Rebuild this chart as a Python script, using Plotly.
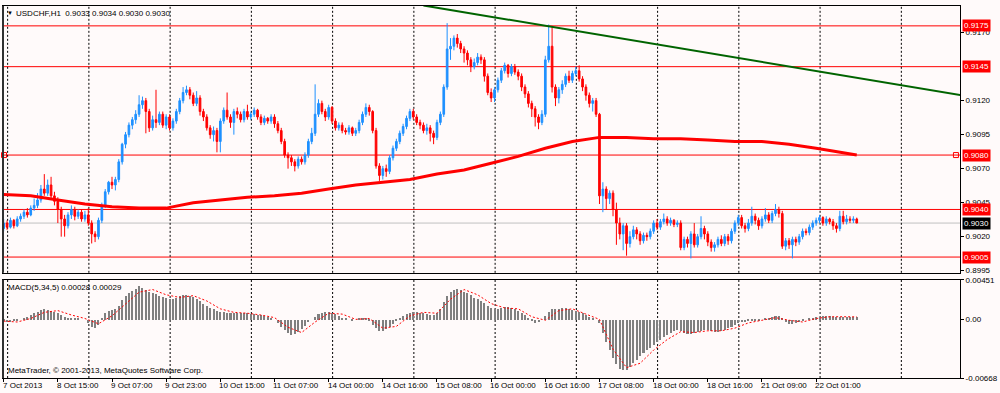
import plotly.graph_objects as go

# ---------------- data ----------------
symbol = "USDCHF,H1"
x_labels = ["7 Oct 2013", "8 Oct 15:00", "9 Oct 07:00", "9 Oct 23:00", "10 Oct 15:00",
            "11 Oct 07:00", "14 Oct 00:00", "14 Oct 16:00", "15 Oct 08:00", "16 Oct 00:00",
            "16 Oct 16:00", "17 Oct 08:00", "18 Oct 00:00", "18 Oct 16:00", "21 Oct 09:00",
            "22 Oct 01:00"]
label_every = 16   # bars between time labels
grid_every = 24    # bars between vertical grid lines

opens = [
    0.9026, 0.9030, 0.9027, 0.9032, 0.9028, 0.9033, 0.9035, 0.9038, 0.9036, 0.9041,
    0.9043, 0.9047, 0.9055, 0.9052, 0.9058, 0.9050, 0.9046, 0.9040, 0.9033, 0.9028,
    0.9036, 0.9040, 0.9035, 0.9038, 0.9033, 0.9036, 0.9030, 0.9022, 0.9020, 0.9032,
    0.9043, 0.9053, 0.9060, 0.9058, 0.9062, 0.9075, 0.9088, 0.9095, 0.9102, 0.9106,
    0.9110, 0.9117, 0.9120, 0.9112, 0.9100, 0.9106, 0.9104, 0.9110, 0.9102, 0.9108,
    0.9100, 0.9105, 0.9112, 0.9120, 0.9126, 0.9128, 0.9124, 0.9118, 0.9122, 0.9112,
    0.9108, 0.9100, 0.9095, 0.9098, 0.9090, 0.9105, 0.9113, 0.9108, 0.9104, 0.9112,
    0.9110, 0.9106, 0.9112, 0.9108, 0.9110, 0.9113, 0.9108, 0.9104, 0.9107, 0.9105,
    0.9108, 0.9103, 0.9098, 0.9090, 0.9080, 0.9078, 0.9075, 0.9072, 0.9077, 0.9075,
    0.9080, 0.9090, 0.9096, 0.9110, 0.9118, 0.9112, 0.9108, 0.9115, 0.9105, 0.9100,
    0.9102, 0.9098, 0.9097, 0.9100, 0.9096, 0.9098, 0.9104, 0.9110, 0.9115, 0.9112,
    0.9098, 0.9072, 0.9065, 0.9070, 0.9068, 0.9078, 0.9085, 0.9090, 0.9096, 0.9101,
    0.9107, 0.9112, 0.9108, 0.9104, 0.9102, 0.9098, 0.9100, 0.9096, 0.9093, 0.9104,
    0.9110, 0.9130, 0.9158, 0.9160, 0.9166, 0.9162, 0.9158, 0.9155, 0.9150, 0.9145,
    0.9148, 0.9152, 0.9150, 0.9138, 0.9126, 0.9122, 0.9128, 0.9135, 0.9142, 0.9146,
    0.9140, 0.9145, 0.9141, 0.9138, 0.9130, 0.9125, 0.9118, 0.9114, 0.9108, 0.9104,
    0.9110, 0.9150, 0.9160, 0.9130, 0.9122, 0.9128, 0.9132, 0.9138, 0.9135, 0.9140,
    0.9142, 0.9136, 0.9130, 0.9124, 0.9118, 0.9120, 0.9110, 0.9050, 0.9055, 0.9048,
    0.9052, 0.9040, 0.9030, 0.9022, 0.9028, 0.9015, 0.9020, 0.9025, 0.9022, 0.9017,
    0.9021, 0.9020, 0.9024, 0.9030, 0.9027, 0.9031, 0.9033, 0.9030, 0.9032, 0.9029,
    0.9030, 0.9012, 0.9018, 0.9015, 0.9022, 0.9014, 0.9020, 0.9026, 0.9022, 0.9016,
    0.9012, 0.9014, 0.9018, 0.9015, 0.9020, 0.9017, 0.9024, 0.9030, 0.9034, 0.9028,
    0.9026, 0.9030, 0.9035, 0.9032, 0.9028, 0.9033, 0.9036, 0.9032, 0.9037, 0.9040,
    0.9037, 0.9013, 0.9017, 0.9014, 0.9018, 0.9016, 0.9020, 0.9024, 0.9023, 0.9027,
    0.9030, 0.9032, 0.9034, 0.9030, 0.9033, 0.9031, 0.9028, 0.9026, 0.9035, 0.9031,
    0.9033, 0.9032, 0.9033]

highs = [
    0.9033, 0.9032, 0.9034, 0.9033, 0.9035, 0.9037, 0.9040, 0.9041, 0.9043, 0.9048,
    0.9052, 0.9058, 0.9066, 0.9062, 0.9064, 0.9053, 0.9049, 0.9042, 0.9036, 0.9038,
    0.9043, 0.9042, 0.9040, 0.9040, 0.9039, 0.9041, 0.9032, 0.9024, 0.9034, 0.9045,
    0.9055, 0.9061, 0.9064, 0.9064, 0.9077, 0.9089, 0.9097, 0.9104, 0.9108, 0.9113,
    0.9124, 0.9123, 0.9122, 0.9114, 0.9109, 0.9128, 0.9112, 0.9112, 0.9110, 0.9110,
    0.9107, 0.9114, 0.9122, 0.9130, 0.9131, 0.9130, 0.9126, 0.9127, 0.9124, 0.9114,
    0.9110, 0.9102, 0.9101, 0.9100, 0.9107, 0.9115, 0.9126, 0.9110, 0.9114, 0.9115,
    0.9112, 0.9114, 0.9117, 0.9112, 0.9115, 0.9114, 0.9110, 0.9109, 0.9108, 0.9110,
    0.9110, 0.9105, 0.9100, 0.9092, 0.9082, 0.9080, 0.9077, 0.9079, 0.9079, 0.9082,
    0.9092, 0.9100, 0.9132, 0.9121, 0.9120, 0.9114, 0.9117, 0.9116, 0.9107, 0.9104,
    0.9104, 0.9100, 0.9102, 0.9101, 0.9100, 0.9106, 0.9112, 0.9118, 0.9117, 0.9113,
    0.9100, 0.9074, 0.9072, 0.9073, 0.9080, 0.9087, 0.9092, 0.9098, 0.9103, 0.9109,
    0.9114, 0.9114, 0.9110, 0.9106, 0.9104, 0.9103, 0.9102, 0.9098, 0.9106, 0.9112,
    0.9132, 0.9177, 0.9166, 0.9168, 0.9169, 0.9164, 0.9160, 0.9157, 0.9152, 0.9151,
    0.9155, 0.9154, 0.9152, 0.9140, 0.9129, 0.9130, 0.9137, 0.9144, 0.9148, 0.9147,
    0.9147, 0.9147, 0.9143, 0.9140, 0.9132, 0.9127, 0.9120, 0.9116, 0.9110, 0.9113,
    0.9153, 0.9176, 0.9175, 0.9132, 0.9130, 0.9135, 0.9140, 0.9142, 0.9142, 0.9145,
    0.9146, 0.9138, 0.9132, 0.9126, 0.9122, 0.9122, 0.9111, 0.9060, 0.9057, 0.9054,
    0.9054, 0.9045, 0.9034, 0.9030, 0.9030, 0.9024, 0.9028, 0.9027, 0.9024, 0.9023,
    0.9023, 0.9026, 0.9032, 0.9033, 0.9033, 0.9037, 0.9035, 0.9034, 0.9033, 0.9032,
    0.9032, 0.9020, 0.9020, 0.9024, 0.9030, 0.9022, 0.9035, 0.9028, 0.9024, 0.9018,
    0.9016, 0.9020, 0.9021, 0.9022, 0.9022, 0.9026, 0.9032, 0.9036, 0.9036, 0.9030,
    0.9033, 0.9042, 0.9037, 0.9034, 0.9035, 0.9041, 0.9038, 0.9039, 0.9044, 0.9042,
    0.9039, 0.9019, 0.9019, 0.9020, 0.9020, 0.9022, 0.9026, 0.9026, 0.9029, 0.9032,
    0.9034, 0.9036, 0.9035, 0.9035, 0.9034, 0.9033, 0.9030, 0.9039, 0.9039, 0.9036,
    0.9035, 0.9035, 0.9034]

lows = [
    0.9024, 0.9025, 0.9026, 0.9026, 0.9027, 0.9031, 0.9033, 0.9034, 0.9035, 0.9039,
    0.9041, 0.9045, 0.9050, 0.9050, 0.9048, 0.9043, 0.9030, 0.9020, 0.9020, 0.9026,
    0.9033, 0.9032, 0.9033, 0.9031, 0.9031, 0.9028, 0.9015, 0.9016, 0.9018, 0.9030,
    0.9041, 0.9051, 0.9055, 0.9054, 0.9060, 0.9073, 0.9085, 0.9093, 0.9099, 0.9103,
    0.9108, 0.9114, 0.9096, 0.9097, 0.9098, 0.9100, 0.9102, 0.9100, 0.9099, 0.9098,
    0.9098, 0.9103, 0.9110, 0.9118, 0.9124, 0.9121, 0.9116, 0.9116, 0.9109, 0.9105,
    0.9098, 0.9092, 0.9090, 0.9082, 0.9082, 0.9103, 0.9106, 0.9100, 0.9095, 0.9107,
    0.9104, 0.9104, 0.9106, 0.9106, 0.9108, 0.9106, 0.9102, 0.9102, 0.9103, 0.9103,
    0.9100, 0.9096, 0.9088, 0.9078, 0.9070, 0.9072, 0.9068, 0.9070, 0.9073, 0.9073,
    0.9078, 0.9088, 0.9094, 0.9108, 0.9110, 0.9105, 0.9106, 0.9103, 0.9098, 0.9098,
    0.9096, 0.9095, 0.9095, 0.9094, 0.9094, 0.9096, 0.9102, 0.9108, 0.9109, 0.9096,
    0.9070, 0.9061, 0.9062, 0.9064, 0.9066, 0.9076, 0.9083, 0.9088, 0.9094, 0.9099,
    0.9105, 0.9106, 0.9102, 0.9099, 0.9096, 0.9095, 0.9090, 0.9088, 0.9091, 0.9102,
    0.9108, 0.9128, 0.9150, 0.9157, 0.9159, 0.9155, 0.9148, 0.9146, 0.9141, 0.9143,
    0.9146, 0.9147, 0.9134, 0.9124, 0.9119, 0.9119, 0.9126, 0.9133, 0.9140, 0.9137,
    0.9138, 0.9139, 0.9135, 0.9127, 0.9122, 0.9115, 0.9108, 0.9101, 0.9099, 0.9102,
    0.9108, 0.9148, 0.9126, 0.9116, 0.9118, 0.9125, 0.9130, 0.9133, 0.9133, 0.9138,
    0.9134, 0.9127, 0.9120, 0.9115, 0.9112, 0.9108, 0.9044, 0.9038, 0.9040, 0.9044,
    0.9035, 0.9014, 0.9018, 0.9010, 0.9006, 0.9012, 0.9018, 0.9018, 0.9014, 0.9015,
    0.9017, 0.9018, 0.9022, 0.9025, 0.9025, 0.9029, 0.9028, 0.9028, 0.9027, 0.9027,
    0.9010, 0.9010, 0.9012, 0.9004, 0.9012, 0.9012, 0.9018, 0.9018, 0.9013, 0.9009,
    0.9009, 0.9012, 0.9013, 0.9013, 0.9014, 0.9015, 0.9022, 0.9028, 0.9026, 0.9023,
    0.9024, 0.9028, 0.9029, 0.9025, 0.9026, 0.9031, 0.9030, 0.9030, 0.9035, 0.9034,
    0.9011, 0.9010, 0.9011, 0.9004, 0.9013, 0.9014, 0.9018, 0.9021, 0.9021, 0.9025,
    0.9028, 0.9030, 0.9028, 0.9028, 0.9029, 0.9025, 0.9023, 0.9024, 0.9029, 0.9029,
    0.9030, 0.9030, 0.9030]

closes = [
    0.9030, 0.9027, 0.9032, 0.9028, 0.9033, 0.9035, 0.9038, 0.9036, 0.9041, 0.9043,
    0.9047, 0.9055, 0.9052, 0.9058, 0.9050, 0.9046, 0.9040, 0.9033, 0.9028, 0.9036,
    0.9040, 0.9035, 0.9038, 0.9033, 0.9036, 0.9030, 0.9022, 0.9020, 0.9032, 0.9043,
    0.9053, 0.9060, 0.9058, 0.9062, 0.9075, 0.9088, 0.9095, 0.9102, 0.9106, 0.9110,
    0.9117, 0.9120, 0.9112, 0.9100, 0.9106, 0.9104, 0.9110, 0.9102, 0.9108, 0.9100,
    0.9105, 0.9112, 0.9120, 0.9126, 0.9128, 0.9124, 0.9118, 0.9122, 0.9112, 0.9108,
    0.9100, 0.9095, 0.9098, 0.9090, 0.9105, 0.9113, 0.9108, 0.9104, 0.9112, 0.9110,
    0.9106, 0.9112, 0.9108, 0.9110, 0.9113, 0.9108, 0.9104, 0.9107, 0.9105, 0.9108,
    0.9103, 0.9098, 0.9090, 0.9080, 0.9078, 0.9075, 0.9072, 0.9077, 0.9075, 0.9080,
    0.9090, 0.9096, 0.9110, 0.9118, 0.9112, 0.9108, 0.9115, 0.9105, 0.9100, 0.9102,
    0.9098, 0.9097, 0.9100, 0.9096, 0.9098, 0.9104, 0.9110, 0.9115, 0.9112, 0.9098,
    0.9072, 0.9065, 0.9070, 0.9068, 0.9078, 0.9085, 0.9090, 0.9096, 0.9101, 0.9107,
    0.9112, 0.9108, 0.9104, 0.9102, 0.9098, 0.9100, 0.9096, 0.9093, 0.9104, 0.9110,
    0.9130, 0.9158, 0.9160, 0.9166, 0.9162, 0.9158, 0.9155, 0.9150, 0.9145, 0.9148,
    0.9152, 0.9150, 0.9138, 0.9126, 0.9122, 0.9128, 0.9135, 0.9142, 0.9146, 0.9140,
    0.9145, 0.9141, 0.9138, 0.9130, 0.9125, 0.9118, 0.9114, 0.9108, 0.9104, 0.9110,
    0.9150, 0.9160, 0.9130, 0.9122, 0.9128, 0.9132, 0.9138, 0.9135, 0.9140, 0.9142,
    0.9136, 0.9130, 0.9124, 0.9118, 0.9120, 0.9110, 0.9050, 0.9055, 0.9048, 0.9052,
    0.9040, 0.9030, 0.9022, 0.9028, 0.9015, 0.9020, 0.9025, 0.9022, 0.9017, 0.9021,
    0.9020, 0.9024, 0.9030, 0.9027, 0.9031, 0.9033, 0.9030, 0.9032, 0.9029, 0.9030,
    0.9012, 0.9018, 0.9015, 0.9022, 0.9014, 0.9020, 0.9026, 0.9022, 0.9016, 0.9012,
    0.9014, 0.9018, 0.9015, 0.9020, 0.9017, 0.9024, 0.9030, 0.9034, 0.9028, 0.9026,
    0.9030, 0.9035, 0.9032, 0.9028, 0.9033, 0.9036, 0.9032, 0.9037, 0.9040, 0.9037,
    0.9013, 0.9017, 0.9014, 0.9018, 0.9016, 0.9020, 0.9024, 0.9023, 0.9027, 0.9030,
    0.9032, 0.9034, 0.9030, 0.9033, 0.9031, 0.9028, 0.9026, 0.9035, 0.9031, 0.9033,
    0.9032, 0.9033, 0.9030]

# moving average (red thick line), read at every 8th bar
ma_bars = [0, 8, 16, 24, 32, 40, 48, 56, 64, 72, 80, 88, 96, 104, 112, 120, 128, 136,
           144, 152, 160, 168, 176, 184, 192, 200, 208, 216, 224, 232, 240, 248, 252]
ma_values = [0.9051, 0.9050, 0.9047, 0.9044, 0.9042, 0.9041, 0.9041, 0.9045, 0.9047,
             0.9049, 0.9050, 0.9052, 0.9055, 0.9058, 0.9060, 0.9062, 0.9066, 0.9069,
             0.9074, 0.9079, 0.9085, 0.9090, 0.9093, 0.9093, 0.9092, 0.9092, 0.9091,
             0.9090, 0.9090, 0.9088, 0.9085, 0.9082, 0.9080]

# trend line anchors (bar, price)
trend_bars = [124, 283]
trend_prices = [0.9190, 0.9124]

# horizontal price levels
red_levels = [0.9175, 0.9145, 0.9080, 0.9040, 0.9005]
bid_level = 0.9030

# MACD(5,34,5) histogram, one value per bar
macd_hist = [
    -0.0002, -0.0003, -0.0003, -0.0002, -0.0001, 0.0000,
    0.0001, 0.0003, 0.0005, 0.0007, 0.0009, 0.0011, 0.0012, 0.0011, 0.0010, 0.0009, 0.0007,
    0.0005, 0.0003, 0.0002, 0.0001, 0.0001, 0.0001, 0.0000, 0.0000,
    -0.0004, -0.0008, -0.0010, -0.0006,
    0.0002, 0.0008, 0.0010, 0.0011, 0.0012,
    0.0016, 0.0022, 0.0027, 0.0030, 0.0033, 0.0035, 0.0038,
    0.0036, 0.0034, 0.0032, 0.0030, 0.0029, 0.0027, 0.0026, 0.0025, 0.0024, 0.0024,
    0.0025, 0.0027, 0.0028, 0.0028, 0.0027, 0.0026, 0.0024,
    0.0021, 0.0018, 0.0015, 0.0013, 0.0012,
    0.0010, 0.0009, 0.0009, 0.0008, 0.0008, 0.0008, 0.0007, 0.0007, 0.0007, 0.0007,
    0.0006, 0.0006, 0.0005, 0.0005, 0.0004, 0.0003, 0.0002, 0.0000,
    -0.0004, -0.0008, -0.0012, -0.0015, -0.0017, -0.0016, -0.0014, -0.0011, -0.0007,
    -0.0003, 0.0000, 0.0003,
    0.0006, 0.0008, 0.0009, 0.0009, 0.0008, 0.0006, 0.0004,
    0.0002, 0.0001, 0.0000, -0.0001, 0.0000, 0.0001, 0.0002, 0.0002,
    -0.0002, -0.0006, -0.0010, -0.0013, -0.0013, -0.0011, -0.0008, -0.0005,
    -0.0002, 0.0001, 0.0004, 0.0006, 0.0008, 0.0009, 0.0009, 0.0008, 0.0007, 0.0006, 0.0005,
    0.0005, 0.0008, 0.0012, 0.0020, 0.0027, 0.0031, 0.0034, 0.0035, 0.0034, 0.0032,
    0.0030, 0.0028, 0.0025, 0.0023, 0.0021, 0.0019, 0.0016, 0.0013, 0.0012, 0.0012,
    0.0013, 0.0014, 0.0014, 0.0013, 0.0012, 0.0010, 0.0008, 0.0005, 0.0002,
    -0.0002, -0.0004, -0.0003, 0.0000, 0.0004,
    0.0009, 0.0012, 0.0012, 0.0012, 0.0013, 0.0013, 0.0012, 0.0011, 0.0010, 0.0009,
    0.0007, 0.0005, 0.0003, 0.0001, 0.0000, -0.0004,
    -0.0015, -0.0025, -0.0035, -0.0044, -0.0051, -0.0056, -0.0058, -0.0057, -0.0054, -0.0050,
    -0.0046, -0.0042, -0.0038, -0.0035, -0.0032, -0.0029, -0.0026, -0.0023, -0.0020,
    -0.0017, -0.0015, -0.0013, -0.0012,
    -0.0013, -0.0015, -0.0016, -0.0016, -0.0015, -0.0014, -0.0013, -0.0012, -0.0012,
    -0.0013, -0.0014, -0.0014, -0.0013, -0.0012, -0.0010,
    -0.0008, -0.0006, -0.0004, -0.0003, -0.0003, -0.0002, -0.0002, -0.0001, -0.0001,
    0.0000, 0.0001, 0.0002,
    0.0003, 0.0004, 0.0004,
    0.0001, -0.0003, -0.0005, -0.0005, -0.0004, -0.0003,
    -0.0001, 0.0000, 0.0001, 0.0002, 0.0003, 0.0003, 0.0004, 0.0004, 0.0004, 0.0003,
    0.0003, 0.0003, 0.0003, 0.0003, 0.0003, 0.0003, 0.00028]

# MACD signal line, read at every 4th bar
signal_bars = list(range(0, 253, 4))
macd_signal = [
    -0.0002, -0.0003, 0.0001, 0.0008, 0.0010, 0.0005, 0.0001, -0.0005, 0.0004, 0.0017,
    0.0031, 0.0034, 0.0028, 0.0025, 0.0027, 0.0021, 0.0012, 0.0008, 0.0007, 0.0005,
    0.0002, -0.0009, -0.0015, -0.0003, 0.0007, 0.0006, 0.0000, 0.0001, -0.0010, -0.0008,
    0.0004, 0.0008, 0.0007, 0.0023, 0.0034, 0.0028, 0.0018, 0.0013, 0.0012, 0.0003,
    -0.0001, 0.0010, 0.0012, 0.0006, 0.0000, -0.0034, -0.0055, -0.0050, -0.0035, -0.0023,
    -0.0014, -0.0015, -0.0013, -0.0013, -0.0010, -0.0004, -0.0001, 0.0002, -0.0001, -0.0003,
    0.0001, 0.0003, 0.0003, 0.00029]
macd_label_values = ("0.00028", "0.00029")
macd_range = [-0.00668, 0.00451]

# right-axis price ticks shown in the chart
price_ticks = [0.8995, 0.9020, 0.9045, 0.9070, 0.9095, 0.9120, 0.9170]

n = len(closes)
assert len(opens) == n and len(highs) == n and len(lows) == n, (len(opens), len(highs), len(lows), n)
assert len(macd_hist) == n, len(macd_hist)
assert len(macd_signal) == len(signal_bars), (len(macd_signal), len(signal_bars))
bars = list(range(n))

# ---------------- styling ----------------
BG = "#FFFAFA"
BLUE = "#1E90FF"
RED = "#FF0000"
FONT = "Liberation Sans"
x_range = [-0.2, 282.5]

fig = go.Figure()

fig.add_trace(go.Candlestick(
    x=bars, open=opens, high=highs, low=lows, close=closes,
    increasing=dict(line=dict(color=BLUE, width=1), fillcolor=BLUE),
    decreasing=dict(line=dict(color=RED, width=1), fillcolor=RED),
    whiskerwidth=0, showlegend=False, xaxis="x", yaxis="y", hoverinfo="skip"))

fig.add_trace(go.Scatter(x=ma_bars, y=ma_values, mode="lines",
                         line=dict(color=RED, width=3), showlegend=False,
                         xaxis="x", yaxis="y", hoverinfo="skip"))

fig.add_trace(go.Scatter(x=trend_bars, y=trend_prices, mode="lines",
                         line=dict(color="#006400", width=2), showlegend=False,
                         xaxis="x", yaxis="y", hoverinfo="skip"))

# small handles on the 0.9080 level line
fig.add_trace(go.Scatter(x=[0.1, 281.3], y=[red_levels[2], red_levels[2]], mode="markers",
                         marker=dict(symbol="square-open", size=5, color=RED, line=dict(width=1)),
                         showlegend=False, xaxis="x", yaxis="y", hoverinfo="skip",
                         cliponaxis=False))

fig.add_trace(go.Bar(x=bars, y=macd_hist, marker=dict(color="#808080", line=dict(width=0)),
                     width=0.6, showlegend=False, xaxis="x2", yaxis="y2", hoverinfo="skip"))
fig.add_trace(go.Scatter(x=signal_bars, y=macd_signal, mode="lines",
                         line=dict(color=RED, width=1, dash="2px,2px"), showlegend=False,
                         xaxis="x2", yaxis="y2", hoverinfo="skip"))

shapes = []
for lv in red_levels:
    shapes.append(dict(type="line", xref="x domain", yref="y", x0=0, x1=1, y0=lv, y1=lv,
                       line=dict(color=RED, width=1), layer="below"))
shapes.append(dict(type="line", xref="x domain", yref="y", x0=0, x1=1, y0=bid_level, y1=bid_level,
                   line=dict(color="#C0C0C0", width=1), layer="below"))
g = 1.17
while g < x_range[1]:
    for yr in ("y domain", "y2 domain"):
        shapes.append(dict(type="line", xref="x", yref=yr, x0=g, x1=g, y0=0, y1=1,
                           line=dict(color="#000000", width=1, dash="2px,2px"), layer="below"))
    g += grid_every
# thicker left frame edge as in the terminal
for yr in ("y domain", "y2 domain"):
    shapes.append(dict(type="line", xref="paper", yref=yr, x0=0, x1=0, y0=0, y1=1,
                       line=dict(color="#303030", width=2)))

annotations = []
# right-side price boxes
for lv in red_levels:
    annotations.append(dict(xref="paper", yref="y", x=1, y=lv, xanchor="left", yanchor="middle",
                            xshift=2, text=f"{lv:.4f}", showarrow=False, bgcolor=RED,
                            font=dict(family=FONT, size=8, color="white"), borderpad=1))
annotations.append(dict(xref="paper", yref="y", x=1, y=bid_level, xanchor="left", yanchor="middle",
                        xshift=2, text=f"{bid_level:.4f}", showarrow=False, bgcolor="#000000",
                        font=dict(family=FONT, size=8, color="white"), borderpad=1))
# time labels, left aligned at their tick
for k, lab in enumerate(x_labels):
    annotations.append(dict(xref="x2", yref="paper", x=k * label_every, y=0, xanchor="left",
                            yanchor="top", xshift=-3, yshift=-1, text=lab, showarrow=False,
                            font=dict(family=FONT, size=8, color="black")))
# header texts
annotations.append(dict(xref="paper", yref="paper", x=0, y=1, xanchor="left", yanchor="top",
                        xshift=2, yshift=-2, text="▼", showarrow=False,
                        font=dict(family=FONT, size=6, color="black")))
annotations.append(dict(xref="paper", yref="paper", x=0, y=1, xanchor="left", yanchor="top",
                        xshift=11, yshift=-1,
                        text=f"{symbol}  {opens[-1]:.4f} {highs[-1]:.4f} {lows[-1]:.4f} {closes[-1]:.4f}",
                        showarrow=False, font=dict(family=FONT, size=8, color="black")))
annotations.append(dict(xref="paper", yref="y2 domain", x=0, y=1, xanchor="left", yanchor="top",
                        xshift=3, yshift=-1,
                        text=f"MACD(5,34,5) {macd_label_values[0]} {macd_label_values[1]}",
                        showarrow=False, font=dict(family=FONT, size=8, color="black")))
annotations.append(dict(xref="paper", yref="y2 domain", x=0, y=0, xanchor="left", yanchor="bottom",
                        xshift=3, yshift=1,
                        text="MetaTrader, © 2001-2013, MetaQuotes Software Corp.",
                        showarrow=False, font=dict(family=FONT, size=8, color="black")))

axis_common = dict(showgrid=False, zeroline=False, showline=True, mirror=True,
                   linecolor="#000000", linewidth=1)

fig.update_layout(
    width=1000, height=393,
    margin=dict(l=2, r=34, t=3, b=15),
    paper_bgcolor=BG, plot_bgcolor=BG,
    font=dict(family=FONT, size=8, color="black"),
    showlegend=False, bargap=0,
    xaxis=dict(domain=[0, 1], range=x_range, anchor="y", showticklabels=False, ticks="",
               rangeslider=dict(visible=False), **axis_common),
    xaxis2=dict(domain=[0, 1], range=x_range, anchor="y2", matches="x",
                tickvals=[k * label_every for k in range(len(x_labels))],
                ticktext=["" for _ in x_labels], ticks="outside", ticklen=3,
                tickcolor="#000000", **axis_common),
    yaxis=dict(domain=[0.2827, 1.0], range=[0.89934, 0.91896], side="right", anchor="x",
               tickvals=price_ticks, ticktext=[f"{v:.4f}" for v in price_ticks],
               ticks="outside", ticklen=3, tickcolor="#000000",
               tickfont=dict(family=FONT, size=8), **axis_common),
    yaxis2=dict(domain=[0, 0.264], range=macd_range, side="right", anchor="x2",
                tickvals=[macd_range[0], 0, macd_range[1]],
                ticktext=[f"{macd_range[0]:.5f}", "0.00", f"{macd_range[1]:.5f}"],
                ticks="outside", ticklen=3, tickcolor="#000000",
                tickfont=dict(family=FONT, size=8), **axis_common),
    shapes=shapes, annotations=annotations,
)

fig.write_html("out.html", config={"displayModeBar": False},
               post_script="document.body.style.margin='0px';document.body.style.overflow='hidden';")
